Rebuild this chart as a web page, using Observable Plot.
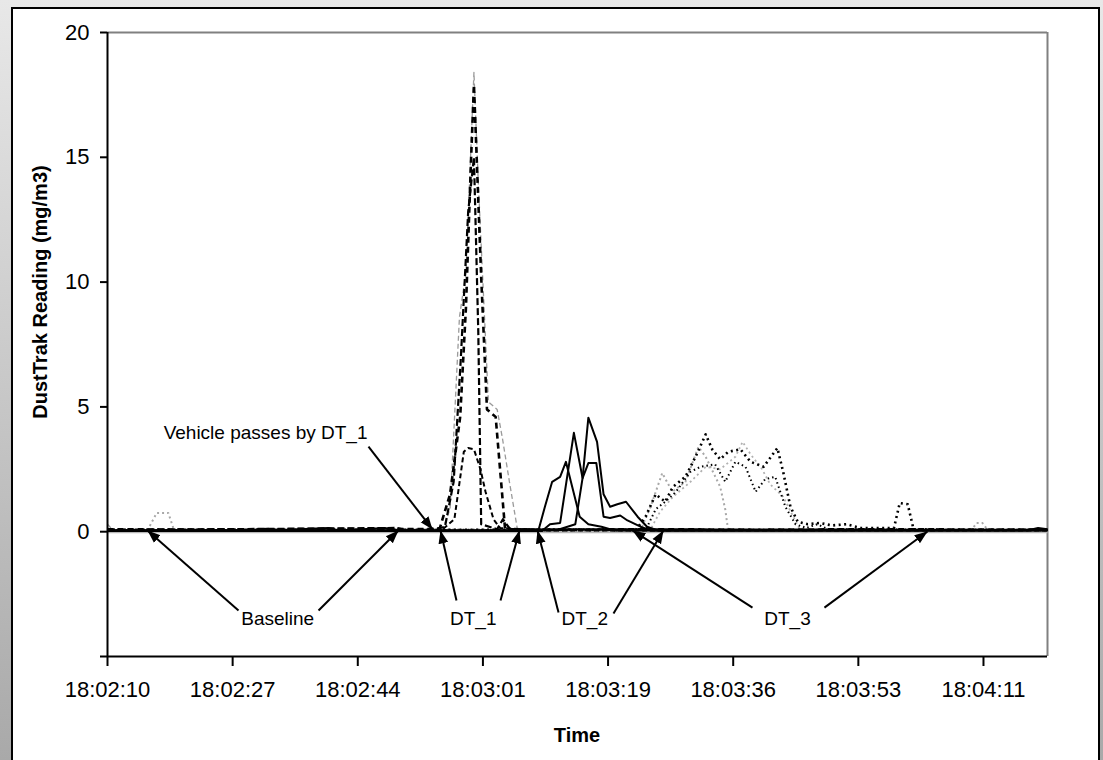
<!DOCTYPE html>
<html><head><meta charset="utf-8">
<script src="https://cdn.jsdelivr.net/npm/d3@7"></script>
<script src="https://cdn.jsdelivr.net/npm/@observablehq/plot@0.6"></script>
<style>
html,body{margin:0;padding:0;}
body{width:1103px;height:760px;overflow:hidden;position:relative;background:linear-gradient(to bottom,#e8e8e8,#a9a9a9);font-family:"Liberation Sans",Arial,sans-serif;}
#box{position:absolute;left:11px;top:7px;width:1089px;height:780px;background:#fff;border:2.5px solid #000;box-sizing:border-box;}
#chart{position:absolute;left:0;top:0;}
.ytitle{position:absolute;left:40px;top:292px;transform:translate(-50%,-50%) rotate(-90deg);font-weight:bold;font-size:20px;white-space:nowrap;color:#000;}
.xtitle{position:absolute;left:577px;top:735px;transform:translate(-50%,-50%);font-weight:bold;font-size:20px;white-space:nowrap;color:#000;}
#chart svg [aria-label$="axis tick"]{stroke-width:2px;}
#chart svg .tick line{stroke-width:2px;}
</style>
</head><body>
<div id="box"></div>
<div id="chart"></div>
<div class="ytitle">DustTrak Reading (mg/m3)</div>
<div class="xtitle">Time</div>
<script>
// time in seconds after 18:02:10, reading in mg/m3
const tickTimes = [0, 17.28, 34.56, 51.84, 69.12, 86.4, 103.68, 120.96];
const tickLabels = ["18:02:10","18:02:27","18:02:44","18:03:01","18:03:19","18:03:36","18:03:53","18:04:11"];
const yTicks = [-5, 0, 5, 10, 15, 20];
const xEnd = 129.8;

// DT_1 (dashed)
const DT1_run1 = [[0,0.1],[12,0.08],[25,0.1],[38,0.12],[44,0.1],[45.9,0.15],[47.3,1.5],[48.7,4.6],[49.5,9.0],[50.2,14.9],[50.6,17.9],[51.6,10.2],[52.4,4.9],[53.6,4.6],[54.9,0.1],[60,0.08],[75,0.1],[90,0.08],[105,0.1],[129.8,0.08]];
const DT1_run2 = [[0,0.3],[0.8,0.05],[20,0.08],[40,0.1],[46.3,0.1],[47.3,0.9],[48.6,8.6],[49.5,10.4],[50.6,18.4],[51.2,14.0],[52.6,5.2],[53.8,4.9],[54.5,3.8],[55.5,2.0],[56.6,0.1],[70,0.06],[129.8,0.06]];
const DT1_run3 = [[0,0.05],[44,0.05],[46.3,0.1],[47.9,0.5],[49.2,3.2],[49.8,3.35],[50.6,3.3],[51.5,2.5],[52.2,1.6],[53.3,0.5],[54.2,0.15],[60,0.05],[129.8,0.05]];
const DT1_run4 = [[0,0.07],[40,0.15],[41,0.07],[45,0.07],[46.6,0.2],[47.8,2.0],[48.8,7.0],[49.8,12.8],[50.6,15.0],[51.2,8.0],[51.6,0.3],[53.8,0.1],[54.6,0.5],[55.6,0.1],[129.8,0.07]];

// DT_2 (solid)
const DT2_run1 = [[0,0.05],[20,0.07],[22,0.12],[24,0.07],[30.5,0.15],[32,0.05],[38.3,0.15],[40,0.05],[59.5,0.05],[60.4,1.0],[61.4,2.0],[62.5,2.2],[63.3,2.8],[64.6,1.3],[65.2,0.6],[66.4,0.3],[68.2,0.2],[70,0.05],[129.8,0.05]];
const DT2_run2 = [[0,0.03],[60,0.03],[61.1,0.3],[62.5,0.35],[64.4,3.96],[65.6,2.15],[66.4,2.75],[67.5,2.75],[68.5,0.6],[69.4,0.55],[70.8,0.65],[71.8,0.45],[73.6,0.2],[75,0.05],[127,0.05],[128.5,0.15],[129.8,0.1]];
const DT2_run3 = [[0,0.06],[62,0.06],[64.6,0.3],[65.6,2.15],[66.4,4.57],[67.6,3.6],[68.5,1.5],[69.4,1.0],[70.4,1.1],[71.6,1.2],[73.2,0.6],[74.5,0.2],[76,0.05],[129.8,0.06]];
const DT2_run4 = [[0,0.0],[129.8,0.0]];

// DT_3 (dotted)
const DT3_run1 = [[0,0.08],[73.0,0.08],[74.3,0.6],[75.7,1.5],[77.0,1.2],[78.1,1.8],[79.8,2.2],[81.2,3.0],[82.6,3.9],[83.5,3.3],[84.6,2.9],[85.7,3.2],[87.4,3.3],[88.8,2.8],[90.6,2.6],[92.5,3.35],[93.3,2.4],[94.3,1.0],[95.3,0.4],[96.7,0.3],[98.4,0.35],[100,0.25],[102,0.3],[104,0.15],[108.6,0.15],[109.4,1.15],[110.5,1.1],[111.3,0.1],[115,0.08],[129.8,0.08]];
const DT3_run2 = [[0,0.05],[5.5,0.05],[6.8,0.75],[8.4,0.75],[9.2,0.05],[73.6,0.05],[75.0,1.0],[76.6,2.35],[78.0,1.6],[79.8,2.0],[81.6,3.4],[82.6,3.0],[84.6,1.8],[85.3,0.9],[85.7,0.05],[119.3,0.05],[120,0.35],[120.8,0.35],[121.6,0.05],[129.8,0.05]];
const DT3_run3 = [[0,0.1],[75,0.1],[76.3,0.8],[78.1,1.4],[80.5,2.0],[82.6,2.6],[84.6,2.5],[86.7,3.0],[87.7,3.6],[88.8,3.1],[90.4,2.5],[91.5,1.9],[93.3,1.4],[94.7,0.6],[95.6,0.1],[129.8,0.1]];
const DT3_run4 = [[0,0.06],[74.3,0.06],[75.7,0.9],[77.0,1.2],[78.5,1.6],[80.5,2.4],[81.9,2.6],[83.9,2.7],[85.3,2.0],[86.7,2.8],[88.1,2.6],[89.5,1.6],[90.8,2.1],[92.2,2.2],[93.6,1.0],[95.0,0.3],[96.5,0.15],[98,0.3],[99.5,0.1],[129.8,0.06]];

// annotations (time s, reading)
const noteTexts = ["Vehicle passes by DT_1","Baseline","DT_1","DT_2","DT_3"];
const noteT = [35.9, 23.5, 50.5, 65.9, 93.9];
const noteV = [3.94, -3.49, -3.49, -3.49, -3.49];
const noteAnchor = ["end","middle","middle","middle","middle"];
const arrowsData = [
  [36.04, 3.41, 44.88, 0.09],
  [18.09, -3.16, 5.52, 0.05],
  [29.14, -3.16, 40.18, 0.05],
  [48.19, -2.76, 45.98, 0.05],
  [54.27, -2.76, 56.89, 0.05],
  [62.28, -3.24, 59.38, 0.05],
  [69.87, -3.28, 76.77, 0.05],
  [89.06, -3.04, 72.49, 0.05],
  [99.0, -3.04, 113.23, 0.01]
];

const styles = [
  {data: DT2_run4, stroke: "#b8b8b8", w: 3, dash: null},
  {data: DT3_run2, stroke: "#a8a8a8", w: 2, dash: "2,3"},
  {data: DT3_run3, stroke: "#b0b0b0", w: 1.8, dash: "2,3"},
  {data: DT1_run2, stroke: "#9a9a9a", w: 1.3, dash: "5,3"},
  {data: DT1_run3, stroke: "#000", w: 2, dash: "5,3"},
  {data: DT1_run4, stroke: "#000", w: 2.2, dash: "7,3"},
  {data: DT1_run1, stroke: "#000", w: 2.6, dash: "6,4"},
  {data: DT2_run1, stroke: "#000", w: 2, dash: null},
  {data: DT2_run2, stroke: "#000", w: 2, dash: null},
  {data: DT2_run3, stroke: "#000", w: 2, dash: null},
  {data: DT3_run4, stroke: "#000", w: 2, dash: "1.5,3"},
  {data: DT3_run1, stroke: "#000", w: 2.6, dash: "2,3.5"}
];

const notes = noteTexts.map((s, i) => ({s, t: noteT[i], v: noteV[i], a: noteAnchor[i]}));

const chart = Plot.plot({
  width: 1103, height: 760,
  marginLeft: 107, marginRight: 56, marginTop: 32, marginBottom: 104,
  style: {background: "transparent", fontFamily: "'Liberation Sans', Arial, sans-serif", fontSize: "22px", color: "#000", overflow: "visible"},
  x: {domain: [0, xEnd], ticks: tickTimes, tickFormat: d => tickLabels[tickTimes.indexOf(d)] ?? "", tickSize: 10, tickPadding: 15, label: null},
  y: {domain: [-5, 20], ticks: yTicks, tickFormat: d => d === -5 ? "" : String(d), tickSize: 7, tickPadding: 11, label: null},
  marks: [
    Plot.ruleY([20], {stroke: "#808080", strokeWidth: 2}),
    Plot.ruleX([xEnd], {stroke: "#808080", strokeWidth: 2}),
    ...styles.map(s => Plot.line(s.data, {x: d => d[0], y: d => d[1], stroke: s.stroke, strokeWidth: s.w, strokeDasharray: s.dash ?? undefined, strokeLinecap: "butt"})),
    Plot.ruleX([0], {stroke: "#000", strokeWidth: 2}),
    Plot.ruleY([-5], {stroke: "#000", strokeWidth: 2}),
    Plot.link(arrowsData, {x1: d => d[0], y1: d => d[1], x2: d => d[2], y2: d => d[3], stroke: "#000", strokeWidth: 2, markerEnd: "arrow"}),
    Plot.text(notes.filter(d => d.a === "end"), {x: "t", y: "v", text: "s", textAnchor: "end", fontSize: 19, fill: "#000"}),
    Plot.text(notes.filter(d => d.a === "middle"), {x: "t", y: "v", text: "s", textAnchor: "middle", fontSize: 19, fill: "#000"})
  ]
});
chart.querySelectorAll("marker").forEach(m => {
  m.setAttribute("viewBox", "-10 -5 10 10");
  m.setAttribute("markerWidth", 6.5);
  m.setAttribute("markerHeight", 6.5);
  m.setAttribute("fill", "#000");
  m.setAttribute("stroke", "none");
  const p = m.querySelector("path");
  if (p) { p.setAttribute("d", "M-10,-3.8L0,0L-10,3.8Z"); p.setAttribute("fill", "#000"); p.setAttribute("stroke", "none"); }
});
document.getElementById("chart").appendChild(chart);
</script>
</body></html>
